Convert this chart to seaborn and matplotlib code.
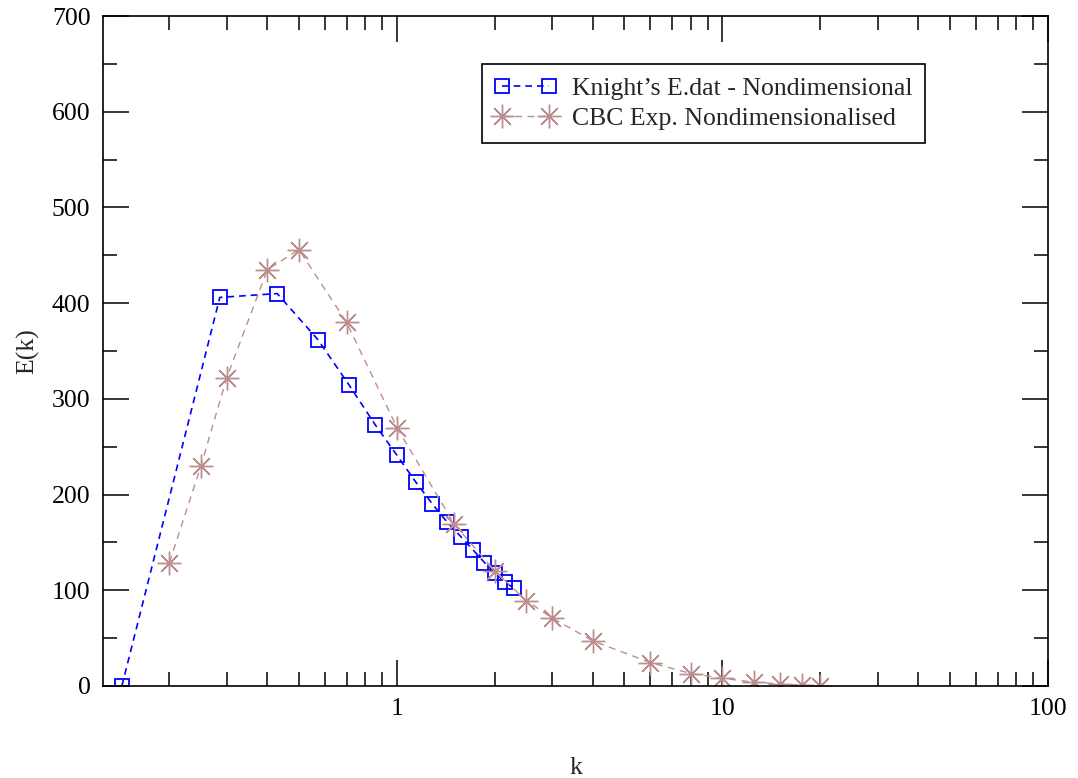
import numpy as np
import pandas as pd
import matplotlib
matplotlib.use('Agg')
import matplotlib.pyplot as plt
from matplotlib.ticker import FixedLocator, MultipleLocator, LogLocator, NullFormatter, FuncFormatter
import seaborn as sns

# data
knight_k = [0.1429, 0.2857, 0.4286, 0.5714, 0.7143, 0.8571, 1.0, 1.1429,
            1.2857, 1.4286, 1.5714, 1.7143, 1.8571, 2.0, 2.1429, 2.2857]
knight_E = [0, 406, 410, 362, 314, 273, 241, 213,
            190, 171, 156, 142, 129, 118, 109, 102]

cbc_k = [0.2, 0.25, 0.3, 0.4, 0.5, 0.7, 1.0, 1.5, 2.0, 2.5,
         3.0, 4.0, 6.0, 8.0, 10.0, 12.5, 15.0, 17.5, 20.0]
cbc_E = [129, 230, 322, 435, 456, 380, 270, 169, 120, 89,
         71, 47, 24.5, 13, 8, 4, 2, 1, 0]

x_major = [1, 10, 100]

sns.set_style('ticks')
plt.rcParams['font.family'] = ['Liberation Serif', 'DejaVu Serif']

FS = 18.5

fig = plt.figure(figsize=(10.78, 7.78), dpi=100)
ax = fig.add_axes([0.0955, 0.1183, 0.8767, 0.8611])

knight = pd.DataFrame({'k': knight_k, 'E': knight_E})
cbc = pd.DataFrame({'k': cbc_k, 'E': cbc_E})

sns.lineplot(data=knight, x='k', y='E', ax=ax, sort=False, color='#0000ff',
             linestyle=(0, (4, 3)), linewidth=1.2, marker='s', markersize=10,
             markerfacecolor='none', markeredgecolor='#0000ff', markeredgewidth=1.3,
             label="Knight\u2019s E.dat - Nondimensional")
sns.lineplot(data=cbc, x='k', y='E', ax=ax, sort=False, color='#bc8f8f',
             linestyle=(0, (5, 4)), linewidth=1.0, marker=(8, 2, 0), markersize=17,
             markeredgecolor='#bc8f8f', markeredgewidth=1.0,
             label='CBC Exp. Nondimensionalised')

ax.set_xscale('log')
ax.set_xlim(0.125, 100)
ax.set_ylim(0, 700)

ax.xaxis.set_major_locator(FixedLocator(x_major))
ax.xaxis.set_major_formatter(FuncFormatter(lambda v, p: f'{v:g}'))
ax.xaxis.set_minor_locator(LogLocator(base=10, subs=np.arange(2, 10)))
ax.xaxis.set_minor_formatter(NullFormatter())
ax.yaxis.set_major_locator(MultipleLocator(100))
ax.yaxis.set_minor_locator(MultipleLocator(50))

ax.tick_params(which='both', direction='in', top=True, right=True,
               labelsize=FS, colors='black', width=1.1)
ax.tick_params(which='major', length=19, pad=9)
ax.tick_params(which='minor', length=10)
for s in ax.spines.values():
    s.set_linewidth(1.2)
    s.set_color('black')

ax.set_xlabel('k', fontsize=FS, labelpad=26)
ax.set_ylabel('E(k)', fontsize=FS, labelpad=9)

leg = ax.legend(loc='upper left', bbox_to_anchor=(0.401, 0.928), fontsize=FS,
                frameon=True, fancybox=False, framealpha=1, edgecolor='black',
                numpoints=2, handlelength=2.4, borderpad=0.5, labelspacing=0.28,
                handletextpad=0.6, borderaxespad=0)
leg.get_frame().set_linewidth(1.2)

fig.savefig('out.png', dpi=100)
plt.close(fig)
